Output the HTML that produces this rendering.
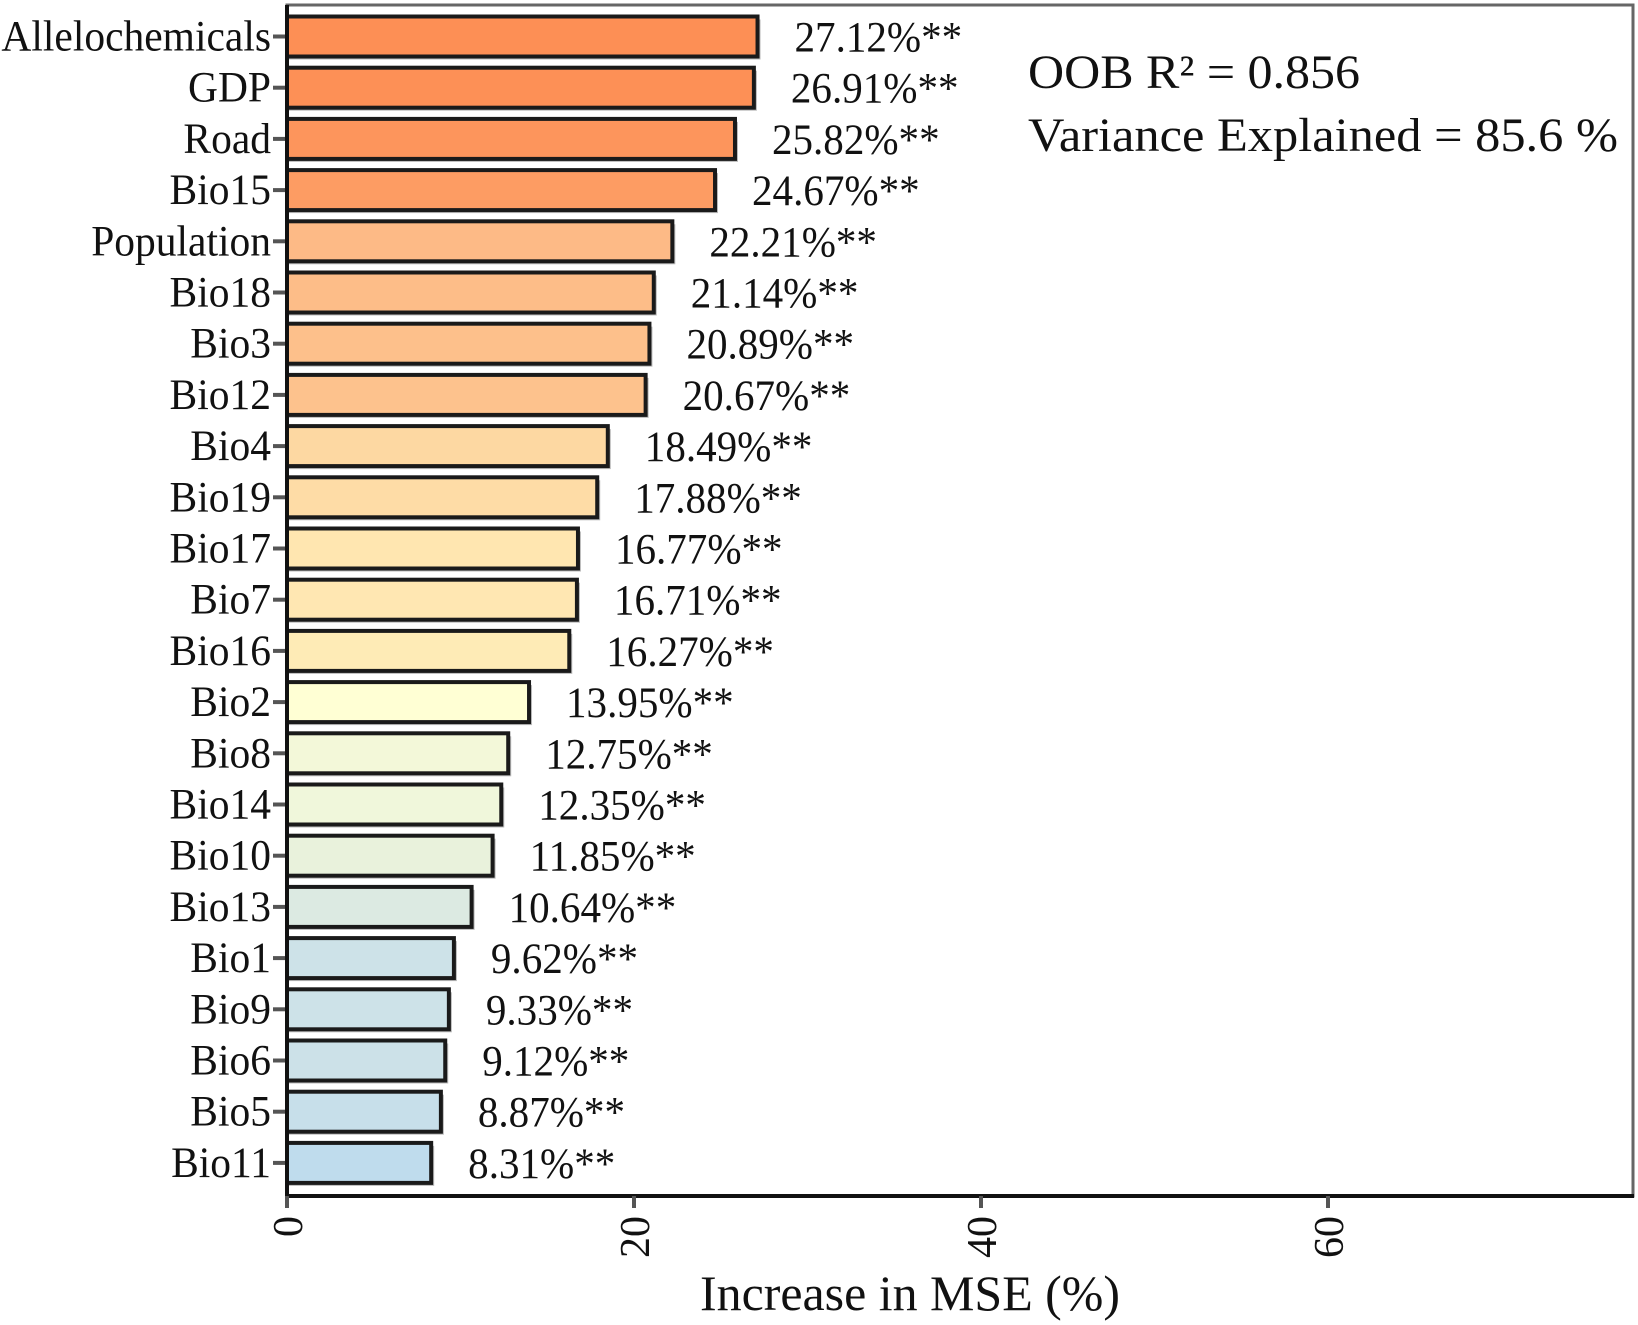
<!DOCTYPE html>
<html><head><meta charset="utf-8">
<style>
html,body{margin:0;padding:0;background:#fff;}
svg{display:block;font-family:"Liberation Serif",serif;}
</style></head>
<body>
<svg id="chart" width="1638" height="1325" viewBox="0 0 1638 1325" xmlns="http://www.w3.org/2000/svg">
<rect x="287" y="5" width="1346" height="1191" fill="#fff" stroke="#666" stroke-width="3"/>
<g id="bars"></g>
<g id="axes"></g>
<text x="1028" y="88" font-size="48" fill="#111" textLength="332" lengthAdjust="spacingAndGlyphs">OOB R² = 0.856</text>
<text x="1028" y="151" font-size="48" fill="#111" textLength="590" lengthAdjust="spacingAndGlyphs">Variance Explained = 85.6 %</text>
<text x="910" y="1310" font-size="50" text-anchor="middle" fill="#111" textLength="420" lengthAdjust="spacingAndGlyphs">Increase in MSE (%)</text>
</svg>
<script>
const categories = ["Allelochemicals","GDP","Road","Bio15","Population","Bio18","Bio3","Bio12","Bio4","Bio19","Bio17","Bio7","Bio16","Bio2","Bio8","Bio14","Bio10","Bio13","Bio1","Bio9","Bio6","Bio5","Bio11"];
const values = [27.12,26.91,25.82,24.67,22.21,21.14,20.89,20.67,18.49,17.88,16.77,16.71,16.27,13.95,12.75,12.35,11.85,10.64,9.62,9.33,9.12,8.87,8.31];
const labels = ["27.12%**","26.91%**","25.82%**","24.67%**","22.21%**","21.14%**","20.89%**","20.67%**","18.49%**","17.88%**","16.77%**","16.71%**","16.27%**","13.95%**","12.75%**","12.35%**","11.85%**","10.64%**","9.62%**","9.33%**","9.12%**","8.87%**","8.31%**"];
const ticks = [0,20,40,60];
const palette = ["#FD8F55","#FD9056","#FD955C","#FD9C63","#FDBA86","#FDBD88","#FDC08B","#FDC28D","#FDD8A2","#FEDCA6","#FFE6B0","#FFE7B2","#FEEBB6","#FFFFD4","#F3F8D9","#F0F7DB","#E9F2DC","#DCEAE2","#CDE2E8","#CDE2E8","#CCE1E8","#C7DFEA","#BFDCED"];
const NS="http://www.w3.org/2000/svg";
const x0=287, pxPerUnit=17.35, yTop=36.5, step=51.2, barH=40;
const xs=v=>x0+v*pxPerUnit;
const ys=i=>yTop+i*step;
const bars=document.getElementById('bars'), axes=document.getElementById('axes');
function mk(tag,attrs){const e=document.createElementNS(NS,tag);for(const k in attrs)e.setAttribute(k,attrs[k]);return e;}
categories.forEach((c,i)=>{
  const cy=ys(i);
  const sh=mk('rect',{x:x0,y:cy-barH/2+3,width:xs(values[i])-x0+3,height:barH,fill:'#bbb'});
  
  
  bars.appendChild(sh);
  const r=mk('rect',{x:x0,y:cy-barH/2,width:xs(values[i])-x0,height:barH,fill:palette[i],stroke:'#1a1a1a','stroke-width':4});
  
  
  bars.appendChild(r);
  const t=mk('text',{x:0,y:0,'font-size':43,fill:'#111',transform:`translate(${xs(values[i])+37},${cy+15}) scale(0.955,1)`});
  t.textContent=labels[i];
  
  
  bars.appendChild(t);
  const tk=mk('line',{x1:273,x2:287,y1:cy,y2:cy,stroke:'#555','stroke-width':4});
  
  
  axes.appendChild(tk);
  const yl=mk('text',{x:0,y:0,'font-size':43,'text-anchor':'end',fill:'#111',transform:`translate(271,${cy+14}) scale(0.965,1)`});
  yl.textContent=c;
  
  
  axes.appendChild(yl);
});
const la=mk('line',{x1:287,x2:287,y1:5,y2:1197,stroke:'#111','stroke-width':4});


axes.appendChild(la);
const ba=mk('line',{x1:287,x2:1634,y1:1196,y2:1196,stroke:'#111','stroke-width':4});


axes.appendChild(ba);
ticks.forEach(v=>{
  const x=xs(v);
  const tk=mk('line',{x1:x,x2:x,y1:1196,y2:1208,stroke:'#555','stroke-width':4});
  
  
  axes.appendChild(tk);
  const t=mk('text',{x:0,y:0,'font-size':42,'text-anchor':'end',fill:'#111',transform:`translate(${x+15},1216) rotate(-90)`});
  t.textContent=String(v);
  
  
  axes.appendChild(t);
});
</script>
</body></html>
